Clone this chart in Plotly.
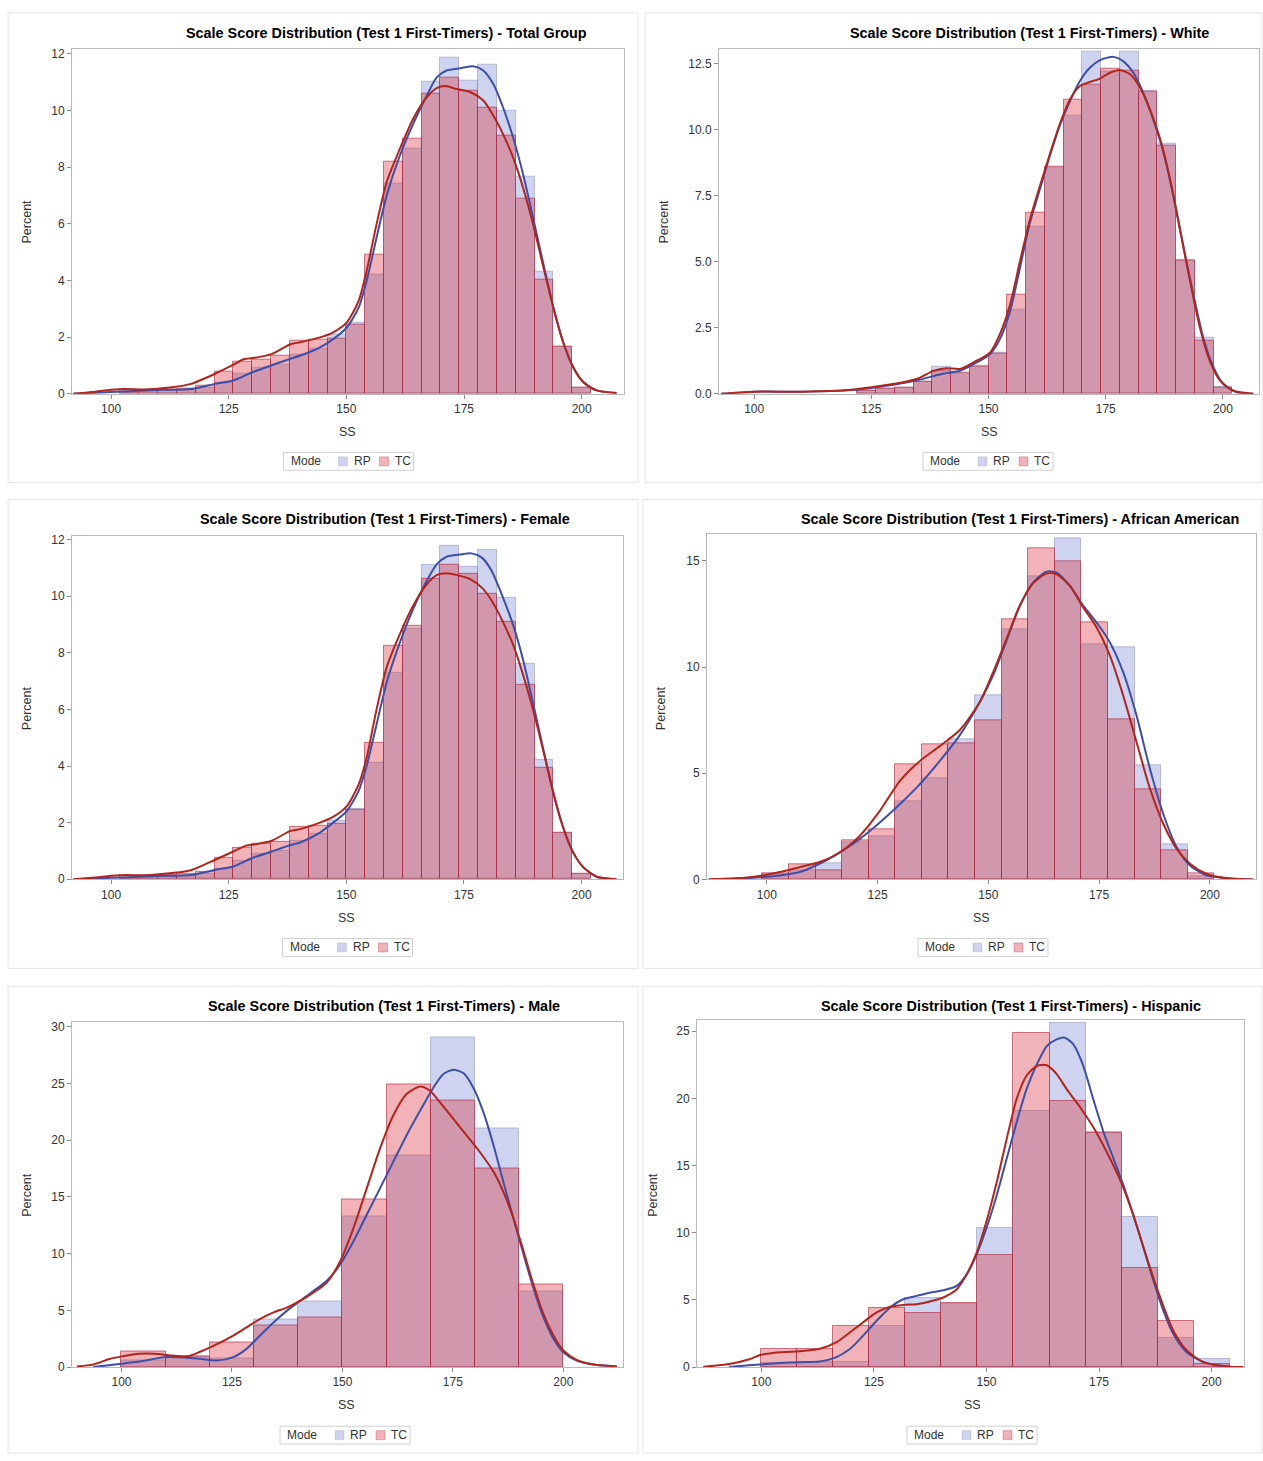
import plotly.graph_objects as go

W, H = 1263, 1461
FONT = "Liberation Sans"

# ---------------- Total Group (bin width 4) ----------------
TOTAL_BINS = [104, 108, 112, 116, 120, 124, 128, 132, 136, 140, 144, 148, 152,
              156, 160, 164, 168, 172, 176, 180, 184, 188, 192, 196, 200]
TOTAL_RP = [0.05, 0.08, 0.1, 0.12, 0.2, 0.4, 0.7, 0.92, 1.04, 1.39, 1.6, 2.1, 2.5,
            4.2, 7.4, 8.65, 11.0, 11.85, 11.05, 11.63, 10.0, 7.65, 4.3, 1.68, 0.22]
TOTAL_TC = [0.15, 0.12, 0.15, 0.18, 0.3, 0.78, 1.12, 1.22, 1.33, 1.86, 1.92, 1.95, 2.45,
            4.9, 8.18, 9.0, 10.6, 11.15, 10.7, 10.1, 9.1, 6.9, 4.03, 1.65, 0.22]
TOTAL_RP_KDE_X = [92, 96, 100, 105, 111, 117, 122, 126, 130, 134, 138, 140.2, 144.4, 147.2,
                  150.1, 152.6, 154.3, 156.4, 158.6, 161.4, 164.2, 167.1, 169.2, 171.3, 174.2,
                  177.0, 179.1, 181.2, 183.4, 185.5, 187.6, 189.7, 191.9, 194.0, 196.1, 198.2,
                  200.4, 203.2, 207.4]
TOTAL_RP_KDE_Y = [0.0, 0.03, 0.06, 0.1, 0.14, 0.17, 0.35, 0.47, 0.76, 1.0, 1.23, 1.35, 1.64, 1.93,
                  2.34, 3.04, 3.98, 5.5, 7.02, 8.42, 9.53, 10.53, 11.17, 11.41, 11.49,
                  11.56, 11.41, 10.94, 10.06, 9.01, 7.72, 6.2, 4.56, 3.04, 1.81, 0.94,
                  0.41, 0.12, 0.03]
TOTAL_TC_KDE_X = [92, 96, 100, 103, 107, 113, 117, 122, 125.7, 128.3, 130.1, 134.1, 138.1, 140.2,
                  144.4, 147.2, 150.1, 152.6, 154.3, 156.4, 158.6, 161.4, 164.2, 167.1, 169.2,
                  171.0, 173.4, 176.3, 179.1, 181.2, 183.4, 185.5, 187.6, 189.7, 191.9, 194.0,
                  196.1, 198.2, 200.4, 203.2, 207.4]
TOTAL_TC_KDE_Y = [0.0, 0.06, 0.14, 0.17, 0.15, 0.23, 0.35, 0.7, 1.0, 1.23, 1.26, 1.4, 1.75, 1.82,
                  1.99, 2.17, 2.52, 3.28, 4.33, 5.97, 7.49, 8.66, 9.71, 10.47, 10.79,
                  10.86, 10.76, 10.65, 10.35, 9.83, 9.13, 8.31, 7.25, 5.97, 4.45, 3.04,
                  1.81, 0.94, 0.41, 0.12, 0.03]

# ---------------- White (bin width 4) ----------------
WHITE_BINS = [124, 128, 132, 136, 140, 144, 148, 152, 156, 160, 164, 168, 172, 176,
              180, 184, 188, 192, 196, 200]
WHITE_RP = [0.1, 0.18, 0.25, 0.44, 1.04, 0.75, 1.05, 1.55, 3.2, 6.33, 8.55, 10.53, 12.93, 12.2,
            12.93, 11.47, 9.45, 5.07, 2.13, 0.27]
WHITE_TC = [0.12, 0.2, 0.25, 0.44, 0.88, 0.8, 1.03, 1.53, 3.76, 6.87, 8.6, 11.13, 11.7, 12.3,
            12.22, 11.45, 9.4, 5.05, 2.0, 0.25]
WHITE_RP_KDE_X = [93, 100, 110, 120, 125, 130, 135, 140, 143.9, 146.8, 150.3, 152.4, 154.6, 156.7,
                  158.8, 161.0, 163.1, 165.2, 167.4, 169.5, 171.6, 173.8, 176.6, 178.7, 180.9,
                  183.0, 185.1, 187.3, 189.4, 191.5, 193.7, 195.8, 198.0, 200.1, 202.9, 206.5]
WHITE_RP_KDE_Y = [0.0, 0.08, 0.08, 0.13, 0.22, 0.35, 0.52, 0.75, 0.87, 1.12, 1.5, 2.06, 3.13, 4.76,
                  6.45, 7.77, 9.02, 10.15, 11.09, 11.84, 12.34, 12.63, 12.75, 12.59, 12.15,
                  11.4, 10.4, 9.15, 7.52, 5.64, 3.76, 2.13, 1.0, 0.37, 0.06, 0.0]
WHITE_TC_KDE_X = [93, 100, 110, 120, 125, 130, 135, 138, 141, 143.9, 146.8, 150.3, 152.4, 154.6,
                  156.7, 158.8, 161.0, 163.1, 165.2, 167.4, 169.5, 171.6, 173.8, 175.9, 178.0,
                  180.2, 182.3, 184.4, 186.6, 188.7, 190.8, 193.0, 195.1, 197.2, 199.4, 202.2, 206.5]
WHITE_TC_KDE_Y = [0.0, 0.08, 0.08, 0.14, 0.25, 0.38, 0.58, 0.85, 0.97, 0.94, 1.19, 1.56, 2.25, 3.38,
                  5.01, 6.58, 7.89, 9.08, 10.21, 11.15, 11.65, 11.8, 11.93, 12.15, 12.25,
                  12.09, 11.59, 10.77, 9.65, 8.14, 6.26, 4.26, 2.5, 1.25, 0.5, 0.12, 0.0]

# ---------------- Female (bin width 4) ----------------
FEMALE_BINS = TOTAL_BINS
FEMALE_RP = [0.05, 0.08, 0.1, 0.12, 0.18, 0.36, 0.66, 0.9, 1.0, 1.35, 1.6, 2.05, 2.5,
             4.1, 7.3, 8.85, 11.09, 11.77, 11.05, 11.63, 9.95, 7.61, 4.22, 1.65, 0.19]
FEMALE_TC = [0.12, 0.12, 0.14, 0.18, 0.28, 0.75, 1.1, 1.24, 1.33, 1.85, 1.9, 1.95, 2.47,
             4.81, 8.26, 8.95, 10.6, 11.09, 10.8, 10.07, 9.08, 6.85, 3.93, 1.65, 0.19]
FEMALE_RP_KDE_X = [92, 96, 100, 105, 111, 117, 122, 126, 130, 134, 138, 140.2, 144.4, 147.2,
                   150.1, 152.6, 154.3, 156.4, 158.6, 161.4, 164.2, 167.1, 169.2, 171.3, 174.2,
                   176.6, 178.8, 180.9, 183.0, 185.5, 187.6, 189.7, 191.9, 194.0, 196.1, 198.2,
                   200.4, 203.2, 207.4]
FEMALE_RP_KDE_Y = [0.0, 0.02, 0.05, 0.08, 0.12, 0.15, 0.33, 0.45, 0.75, 0.97, 1.2, 1.3, 1.65, 2.0,
                   2.41, 3.11, 3.99, 5.45, 6.97, 8.37, 9.54, 10.54, 11.12, 11.39, 11.47,
                   11.51, 11.36, 10.89, 10.07, 8.96, 7.73, 6.21, 4.57, 3.05, 1.82, 0.95,
                   0.42, 0.09, 0.0]
FEMALE_TC_KDE_X = [92, 96, 100, 103, 107, 113, 117, 122, 126, 128.5, 130, 134, 138, 140.2,
                   144.4, 147.2, 150.1, 152.6, 154.3, 156.4, 158.6, 161.4, 164.2, 167.1, 169.2,
                   171.3, 173.4, 176.3, 178.8, 180.9, 183.0, 185.5, 187.6, 189.7, 191.9, 194.0,
                   196.1, 198.2, 200.4, 203.2, 207.4]
FEMALE_TC_KDE_Y = [0.0, 0.05, 0.12, 0.15, 0.14, 0.22, 0.32, 0.68, 0.98, 1.18, 1.22, 1.35, 1.7, 1.77,
                   2.0, 2.2, 2.58, 3.34, 4.28, 5.98, 7.5, 8.67, 9.66, 10.42, 10.74,
                   10.81, 10.75, 10.6, 10.3, 9.84, 9.19, 8.26, 7.2, 5.98, 4.51, 3.05,
                   1.82, 0.95, 0.42, 0.09, 0.0]

# ---------------- African American (bin width 6) ----------------
AFAM_BINS = [102, 108, 114, 120, 126, 132, 138, 144, 150, 156, 162, 168, 174, 180, 186, 192, 198]
AFAM_RP = [0.25, 0.45, 0.74, 1.75, 2.02, 3.7, 4.76, 6.6, 8.68, 11.77, 14.29, 16.04, 11.05, 10.91,
           5.38, 1.67, 0.15]
AFAM_TC = [0.3, 0.7, 0.43, 1.83, 2.37, 5.41, 6.38, 6.4, 7.51, 12.23, 15.57, 14.99, 12.11, 7.56,
           4.24, 1.39, 0.3]
AFAM_KDE_X = [87, 95, 100, 102.9, 107.4, 111.9, 116.5, 121.0, 125.5, 130.0, 134.5, 139.0, 143.6,
              148.1, 151.1, 154.1, 157.1, 160.1, 163.1, 165.4, 168.4, 171.4, 174.4, 177.4, 180.4,
              183.4, 186.4, 189.5, 192.5, 195.5, 199.2, 204.5, 209.8]
AFAM_RP_KDE_Y = [0.01, 0.06, 0.13, 0.19, 0.35, 0.74, 1.28, 1.91, 2.68, 3.54, 4.48, 5.57, 6.81,
                 8.37, 9.62, 11.25, 12.89, 13.98, 14.49, 14.45, 13.82, 12.89, 12.11, 11.17, 9.77,
                 7.75, 5.26, 3.07, 1.52, 0.66, 0.19, 0.04, 0.0]
AFAM_TC_KDE_Y = [0.01, 0.08, 0.22, 0.35, 0.58, 0.82, 1.28, 2.06, 3.23, 4.63, 5.57, 6.27, 7.05,
                 8.37, 9.77, 11.33, 12.89, 13.95, 14.4, 14.37, 13.82, 12.81, 11.88, 10.55, 8.68,
                 6.5, 4.32, 2.61, 1.44, 0.74, 0.27, 0.04, 0.0]

# ---------------- Male (bin width 10) ----------------
MALE_BINS = [105, 115, 125, 135, 145, 155, 165, 175, 185, 195]
MALE_RP = [0.6, 0.9, 0.8, 4.23, 5.83, 13.28, 18.68, 29.04, 21.0, 6.7]
MALE_TC = [1.4, 0.9, 2.2, 3.65, 4.37, 14.74, 24.96, 23.49, 17.5, 7.3]
MALE_RP_KDE_X = [93.6, 100, 104.8, 109.5, 113.2, 117.8, 121.5, 125.3, 128.3, 131.3, 134.4, 137.4,
                 140.4, 143.4, 146.4, 149.5, 152.5, 155.5, 158.5, 161.5, 164.5, 167.6, 170.6,
                 172.8, 175.1, 177.4, 179.6, 181.9, 184.2, 186.4, 188.7, 191.0, 193.2, 195.5,
                 197.8, 200.0, 203.0, 206.8, 212.1]
MALE_RP_KDE_Y = [0.0, 0.29, 0.53, 0.87, 0.87, 0.73, 0.58, 0.88, 1.61, 2.77, 3.94, 4.96,
                 5.84, 6.71, 7.59, 9.05, 11.09, 13.43, 15.76, 18.1, 20.43, 22.62, 24.66,
                 25.83, 26.21, 25.92, 24.66, 22.48, 19.56, 16.35, 13.13, 9.92, 7.0, 4.38,
                 2.48, 1.31, 0.58, 0.23, 0.06]
MALE_TC_KDE_X = [89.9, 93.6, 97.3, 100, 103.9, 107.6, 111.3, 115, 117.8, 121.5, 125.3, 128.3,
                 131.3, 134.4, 137.4, 140.4, 143.4, 146.4, 149.5, 152.5, 155.5, 158.5, 161.5,
                 164.5, 167.6, 169.8, 172.1, 175.1, 178.1, 181.1, 184.2, 186.4, 188.7, 191.0,
                 193.2, 195.5, 197.8, 200.0, 203.0, 206.8, 212.1]
MALE_TC_KDE_Y = [0.06, 0.23, 0.72, 0.93, 1.17, 1.17, 1.02, 0.95, 1.35, 2.0, 2.77, 3.5,
                 4.23, 4.82, 5.25, 5.84, 6.57, 7.44, 9.34, 12.26, 15.76, 19.26, 22.18,
                 24.08, 24.75, 24.37, 23.35, 21.89, 20.43, 18.97, 17.22, 15.47, 13.13, 10.22,
                 7.3, 4.67, 2.77, 1.46, 0.64, 0.23, 0.06]

# ---------------- Hispanic (bin width 8) ----------------
HISP_BINS = [104, 112, 120, 128, 136, 144, 152, 160, 168, 176, 184, 192, 200]
HISP_RP = [0.3, 0.4, 0.4, 3.08, 5.17, 4.7, 10.35, 19.09, 25.57, 17.5, 11.2, 2.17, 0.61]
HISP_TC = [1.35, 1.35, 3.03, 4.38, 4.06, 4.8, 8.37, 24.88, 19.83, 17.4, 7.39, 3.4, 0.2]
HISP_RP_KDE_X = [92.8, 96, 99.7, 104.1, 108.6, 113.0, 116.7, 119.7, 122.6, 125.6, 128.6, 131.5,
                 134.5, 137.4, 140.4, 143.4, 145.6, 147.8, 150.0, 152.3, 154.5, 156.7, 158.9,
                 161.2, 163.4, 165.6, 167.4, 169.3, 171.5, 173.7, 176.0, 178.2, 180.4, 182.6,
                 184.9, 187.1, 189.3, 191.5, 194.5, 198.2, 203.4, 207]
HISP_RP_KDE_Y = [0.0, 0.1, 0.2, 0.3, 0.37, 0.42, 0.74, 1.36, 2.34, 3.45, 4.44, 5.05,
                 5.3, 5.54, 5.72, 6.04, 6.9, 8.38, 10.35, 12.81, 15.52, 18.23, 20.69,
                 22.54, 23.89, 24.39, 24.51, 24.02, 22.42, 19.95, 17.49, 15.52, 13.55, 11.33,
                 8.87, 6.41, 4.19, 2.47, 1.11, 0.37, 0.05, 0.0]
HISP_TC_KDE_X = [87.1, 93.2, 97.5, 99.7, 104.1, 108.6, 113.0, 116.7, 119.7, 122.6, 125.6, 128.6,
                 131.5, 134.5, 137.4, 140.4, 143.4, 145.6, 147.8, 150.0, 152.3, 154.5, 156.7,
                 158.9, 161.2, 163.4, 165.6, 167.8, 170.8, 173.7, 176.7, 179.7, 182.6, 185.6,
                 188.6, 191.5, 194.5, 198.2, 203.4, 207]
HISP_TC_KDE_Y = [0.02, 0.25, 0.6, 0.9, 1.11, 1.18, 1.36, 1.85, 2.59, 3.33, 4.07, 4.49,
                 4.63, 4.68, 4.88, 5.18, 5.79, 6.9, 8.5, 10.84, 13.79, 17.0, 19.95,
                 21.68, 22.42, 22.46, 21.8, 20.69, 19.34, 17.86, 16.01, 13.92, 11.33, 8.13,
                 5.17, 2.71, 1.23, 0.37, 0.05, 0.0]

TITLE_PREFIX = "Scale Score Distribution (Test 1 First-Timers) - "
GROUPS = ["Total Group", "White", "Female", "African American", "Male", "Hispanic"]
MODES = ["RP", "TC"]
X_TICKS = [100, 125, 150, 175, 200]

# Data per panel
PANEL_DATA = [
    dict(bins=TOTAL_BINS, width=4, rp=TOTAL_RP, tc=TOTAL_TC,
         rpk=(TOTAL_RP_KDE_X, TOTAL_RP_KDE_Y), tck=(TOTAL_TC_KDE_X, TOTAL_TC_KDE_Y)),
    dict(bins=WHITE_BINS, width=4, rp=WHITE_RP, tc=WHITE_TC,
         rpk=(WHITE_RP_KDE_X, WHITE_RP_KDE_Y), tck=(WHITE_TC_KDE_X, WHITE_TC_KDE_Y)),
    dict(bins=FEMALE_BINS, width=4, rp=FEMALE_RP, tc=FEMALE_TC,
         rpk=(FEMALE_RP_KDE_X, FEMALE_RP_KDE_Y), tck=(FEMALE_TC_KDE_X, FEMALE_TC_KDE_Y)),
    dict(bins=AFAM_BINS, width=6, rp=AFAM_RP, tc=AFAM_TC,
         rpk=(AFAM_KDE_X, AFAM_RP_KDE_Y), tck=(AFAM_KDE_X, AFAM_TC_KDE_Y)),
    dict(bins=MALE_BINS, width=10, rp=MALE_RP, tc=MALE_TC,
         rpk=(MALE_RP_KDE_X, MALE_RP_KDE_Y), tck=(MALE_TC_KDE_X, MALE_TC_KDE_Y)),
    dict(bins=HISP_BINS, width=8, rp=HISP_RP, tc=HISP_TC,
         rpk=(HISP_RP_KDE_X, HISP_RP_KDE_Y), tck=(HISP_TC_KDE_X, HISP_TC_KDE_Y)),
]

# Layout per panel (pixel geometry of plot area, axis ranges, y tick step, label spots)
PANEL_LAYOUT = [
    dict(rect=(72, 46, 624, 393.5), xr=(91.7, 209.0), yr=(0, 12.18), dt=2, fmt="d",
         frame=(8, 10, 638, 483), title=(386, 30), ylab=(27, 220), xlab=(347, 432), leg=(348.5, 461.5)),
    dict(rect=(719, 46, 1259, 393.5), xr=(92.5, 207.7), yr=(0, 13.06), dt=2.5, fmt=".1f",
         frame=(645, 10, 1262, 483), title=(1029, 30), ylab=(664, 220), xlab=(989, 432), leg=(988, 461.5)),
    dict(rect=(72, 536.5, 623, 882.3), xr=(91.7, 208.8), yr=(0, 12.13), dt=2, fmt="d",
         frame=(8, 500, 638, 972), title=(385, 520), ylab=(27, 710), xlab=(346, 921), leg=(347.5, 951)),
    dict(rect=(707, 535, 1256, 882.5), xr=(86.5, 210.4), yr=(0, 16.25), dt=5, fmt="d",
         frame=(643, 500, 1262, 972), title=(1020, 520), ylab=(661, 710), xlab=(981, 921), leg=(983, 951)),
    dict(rect=(72, 1026.5, 623, 1373.5), xr=(88.8, 213.5), yr=(0, 30.39), dt=5, fmt="d",
         frame=(8, 990, 638, 1460), title=(384, 1010), ylab=(27, 1200), xlab=(346, 1412), leg=(345, 1442)),
    dict(rect=(697, 1024, 1244, 1373.5), xr=(85.7, 207.2), yr=(0, 25.83), dt=5, fmt="d",
         frame=(643, 990, 1262, 1460), title=(1011, 1010), ylab=(653, 1200), xlab=(972, 1412), leg=(972, 1442)),
]

RP_FILL = "rgba(110,130,210,0.34)"
RP_EDGE = "rgba(120,128,165,0.45)"
TC_FILL = "rgba(215,45,55,0.36)"
TC_EDGE = "rgba(170,35,60,0.6)"
RP_LINE = "#3d4fa8"
TC_LINE = "#b3241c"
TEXT = "#333333"


def px(x):
    return x / W


def py(y):
    return 1 - y / H


fig = go.Figure()
annotations = []
shapes = []
layout_axes = {}

for i, (d, g) in enumerate(zip(PANEL_DATA, PANEL_LAYOUT)):
    n = "" if i == 0 else str(i + 1)
    xa, ya = "x" + n, "y" + n
    l, t, r, b = g["rect"]

    fig.add_trace(go.Bar(x=d["bins"], y=d["rp"], width=d["width"], name=MODES[0],
                         marker=dict(color=RP_FILL, line=dict(color=RP_EDGE, width=1)),
                         xaxis=xa, yaxis=ya, showlegend=False, hoverinfo="x+y"))
    fig.add_trace(go.Bar(x=d["bins"], y=d["tc"], width=d["width"], name=MODES[1],
                         marker=dict(color=TC_FILL, line=dict(color=TC_EDGE, width=1)),
                         xaxis=xa, yaxis=ya, showlegend=False, hoverinfo="x+y"))
    fig.add_trace(go.Scatter(x=d["rpk"][0], y=d["rpk"][1], mode="lines", showlegend=False,
                             line=dict(color=RP_LINE, width=2, shape="spline", smoothing=0.7),
                             xaxis=xa, yaxis=ya))
    fig.add_trace(go.Scatter(x=d["tck"][0], y=d["tck"][1], mode="lines", showlegend=False,
                             line=dict(color=TC_LINE, width=2, shape="spline", smoothing=0.7),
                             xaxis=xa, yaxis=ya))

    axis_common = dict(showline=True, linecolor="#b9b9b9", linewidth=1, mirror=True,
                       ticks="outside", ticklen=4, tickcolor="#8c8c8c", showgrid=False,
                       zeroline=False, tickfont=dict(family=FONT, size=12, color=TEXT),
                       fixedrange=True)
    layout_axes["xaxis" + n] = dict(axis_common, domain=[px(l), px(r)], range=list(g["xr"]),
                                    tickvals=X_TICKS, anchor=ya)
    layout_axes["yaxis" + n] = dict(axis_common, domain=[py(b), py(t)], range=list(g["yr"]),
                                    dtick=g["dt"], tick0=0, tickformat=g["fmt"], anchor=xa)

    # panel frame
    fl, ft, fr, fb = g["frame"]
    shapes.append(dict(type="rect", xref="paper", yref="paper", x0=px(fl), x1=px(fr),
                       y0=py(fb), y1=py(ft), line=dict(color="#e4e4e4", width=1),
                       fillcolor="rgba(0,0,0,0)", layer="below"))

    # legend box: "Mode" + RP / TC swatches
    cx, cy = g["leg"]
    bl = cx - 65
    shapes.append(dict(type="rect", xref="paper", yref="paper", x0=px(bl), x1=px(bl + 130),
                       y0=py(cy + 9), y1=py(cy - 9), line=dict(color="#d0d0d0", width=1),
                       fillcolor="white"))
    annotations.append(dict(text="Mode", xref="paper", yref="paper", x=px(bl + 5), y=py(cy),
                            xanchor="left", yanchor="middle", showarrow=False,
                            font=dict(family=FONT, size=12, color=TEXT)))
    for k, (mode, fill, edge) in enumerate(zip(MODES, [RP_FILL, TC_FILL], [RP_EDGE, TC_EDGE])):
        sx = bl + 55 + 41 * k
        shapes.append(dict(type="rect", xref="paper", yref="paper", x0=px(sx), x1=px(sx + 9),
                           y0=py(cy + 4.5), y1=py(cy - 4.5), line=dict(color=edge, width=0.5),
                           fillcolor=fill))
        annotations.append(dict(text=mode, xref="paper", yref="paper", x=px(sx + 13), y=py(cy),
                                xanchor="left", yanchor="middle", showarrow=False,
                                font=dict(family=FONT, size=12, color=TEXT)))

    annotations.append(dict(text="<b>" + TITLE_PREFIX + GROUPS[i] + "</b>", xref="paper", yref="paper",
                            x=px(g["title"][0]), y=py(g["title"][1]), xanchor="center",
                            yanchor="middle", showarrow=False,
                            font=dict(family=FONT, size=14.4, color="#000000")))
    annotations.append(dict(text="Percent", textangle=-90, xref="paper", yref="paper",
                            x=px(g["ylab"][0]), y=py(g["ylab"][1]), xanchor="center",
                            yanchor="middle", showarrow=False,
                            font=dict(family=FONT, size=12.5, color=TEXT)))
    annotations.append(dict(text="SS", xref="paper", yref="paper",
                            x=px(g["xlab"][0]), y=py(g["xlab"][1]), xanchor="center",
                            yanchor="middle", showarrow=False,
                            font=dict(family=FONT, size=12.5, color=TEXT)))

fig.update_layout(
    width=W, height=H, margin=dict(l=0, r=0, t=0, b=0),
    paper_bgcolor="white", plot_bgcolor="white",
    barmode="overlay", bargap=0, showlegend=False,
    annotations=annotations, shapes=shapes,
    font=dict(family=FONT, size=12, color=TEXT),
    **layout_axes,
)

fig.write_html("out.html")
